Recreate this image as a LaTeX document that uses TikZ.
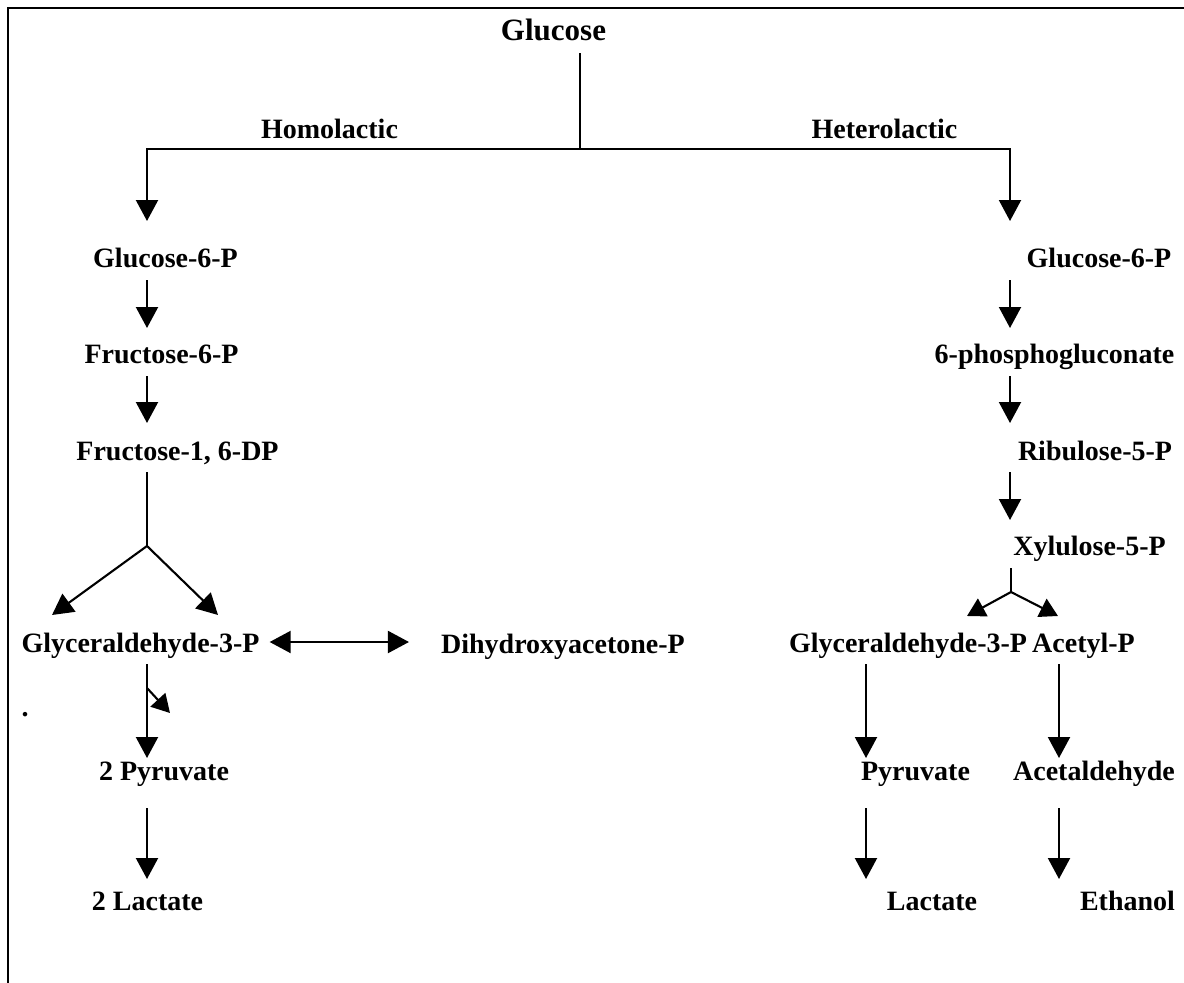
\documentclass[tikz,border=0pt]{standalone}
\usepackage{fontspec}
\setmainfont{Liberation Serif}
\usetikzlibrary{arrows.meta}
\begin{document}
\begin{tikzpicture}[x=1pt,y=-1pt,
  lbl/.style={font=\fontsize{28}{30}\selectfont\bfseries, inner sep=0pt, anchor=base},
  big/.style={font=\fontsize{31}{33}\selectfont\bfseries, inner sep=0pt, anchor=base},
  ln/.style={line width=2.1pt},
  arr/.style={line width=2.1pt, -{Triangle[width=22pt,length=21pt]}},
  sarr/.style={line width=2.1pt, -{Triangle[width=20pt,length=18pt]}},
  frame/.style={line width=2.8pt}]
\useasboundingbox (0,0) rectangle (1184,983);
\draw[frame] (8,983) -- (8,8) -- (1184,8);

% nodes
\node[big] (Glc) at (553.5,40) {Glucose};
\node[lbl] (Homo) at (329.5,138) {Homolactic};
\node[lbl] (Hetero) at (884.5,138) {Heterolactic};
\node[lbl] (GlcL) at (165.5,267) {Glucose-6-P};
\node[lbl] (F6P) at (161.5,363) {Fructose-6-P};
\node[lbl] (F16) at (177.5,460) {Fructose-1, 6-DP};
\node[lbl] (G3PL) at (140.5,652) {Glyceraldehyde-3-P};
\node[lbl] (DHAP) at (563,653) {Dihydroxyacetone-P};
\node[lbl] (Pyr2) at (164,780) {2 Pyruvate};
\node[lbl] (Lac2) at (147.5,910) {2 Lactate};
\node[lbl] (dot) at (25,716) {.};
\node[lbl] (GlcR) at (1099,267) {Glucose-6-P};
\node[lbl] (PG) at (1054.5,363) {6-phosphogluconate};
\node[lbl] (Ru) at (1095,460) {Ribulose-5-P};
\node[lbl] (Xu) at (1089.5,555) {Xylulose-5-P};
\node[lbl] (G3PR) at (908,652) {Glyceraldehyde-3-P};
\node[lbl] (AcP) at (1083.5,652) {Acetyl-P};
\node[lbl] (Pyr) at (915.5,780) {Pyruvate};
\node[lbl] (Acet) at (1094,780) {Acetaldehyde};
\node[lbl] (Lac) at (932,910) {Lactate};
\node[lbl] (EtOH) at (1127.5,910) {Ethanol};

% named coordinates
\coordinate (xL) at (147,0);
\coordinate (xR) at (1010,0);
\coordinate (xM) at (580,0);
\coordinate (xP) at (866,0);
\coordinate (xA) at (1059,0);
\coordinate (barM) at (580,149);
\coordinate (forkL) at (147,546);
\coordinate (tipLa) at (52,615);
\coordinate (tipLb) at (218,615);
\coordinate (forkR) at (1011,592);
\coordinate (tipRa) at (967,616);
\coordinate (tipRb) at (1058,616);
\coordinate (sideS) at (147,688);
\coordinate (sideT) at (170,713);

% top split
\draw[ln] ([yshift=-13pt]Glc.base -| xM) -- (barM);
\draw[arr] (barM) -| ([yshift=46pt]GlcL.base -| xL);
\draw[arr] (barM) -| ([yshift=46pt]GlcR.base -| xR);

% homolactic
\draw[arr] ([yshift=-13pt]GlcL.base -| xL) -- ([yshift=35pt]F6P.base -| xL);
\draw[arr] ([yshift=-13pt]F6P.base -| xL) -- ([yshift=37pt]F16.base -| xL);
\draw[ln] ([yshift=-12pt]F16.base -| xL) -- (forkL);
\draw[arr] (forkL) -- (tipLa);
\draw[arr] (forkL) -- (tipLb);
\draw[line width=2.1pt, {Triangle[width=22pt,length=21pt]}-{Triangle[width=22pt,length=21pt]}]
  ([xshift=10pt,yshift=10pt]G3PL.base east) -- ([xshift=-32pt,yshift=11pt]DHAP.base west);
\draw[arr] ([yshift=-12pt]G3PL.base -| xL) -- ([yshift=22pt]Pyr2.base -| xL);
\draw[sarr] (sideS) -- (sideT);
\draw[arr] ([yshift=-28pt]Pyr2.base -| xL) -- ([yshift=31pt]Lac2.base -| xL);

% heterolactic
\draw[arr] ([yshift=-13pt]GlcR.base -| xR) -- ([yshift=35pt]PG.base -| xR);
\draw[arr] ([yshift=-13pt]PG.base -| xR) -- ([yshift=37pt]Ru.base -| xR);
\draw[arr] ([yshift=-12pt]Ru.base -| xR) -- ([yshift=35pt]Xu.base -| xR);
\draw[ln] ([yshift=-13pt]Xu.base -| forkR) -- (forkR);
\draw[sarr] (forkR) -- (tipRa);
\draw[sarr] (forkR) -- (tipRb);
\draw[arr] ([yshift=-12pt]G3PR.base -| xP) -- ([yshift=22pt]Pyr.base -| xP);
\draw[arr] ([yshift=-12pt]AcP.base -| xA) -- ([yshift=22pt]Acet.base -| xA);
\draw[arr] ([yshift=-28pt]Pyr.base -| xP) -- ([yshift=31pt]Lac.base -| xP);
\draw[arr] ([yshift=-28pt]Acet.base -| xA) -- ([yshift=31pt]EtOH.base -| xA);
\end{tikzpicture}
\end{document}
